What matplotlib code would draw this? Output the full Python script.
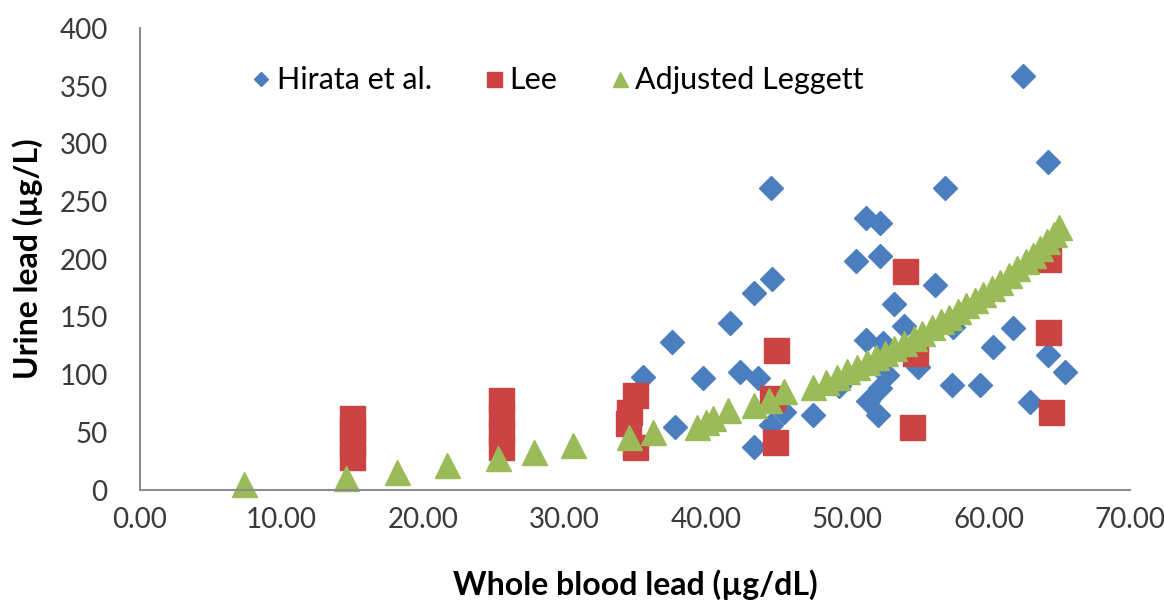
import matplotlib.pyplot as plt
from matplotlib.ticker import FormatStrFormatter

plt.rcParams['font.family'] = ['Lato', 'DejaVu Sans']

# Hirata et al.
hirata_x = [37.6, 35.6, 39.8, 37.8, 41.7, 42.4, 43.7, 43.4, 43.4, 44.6, 44.7, 44.6,
            45.5, 47.6, 49.4, 50.6, 51.3, 52.3, 52.3, 51.3, 52.5, 53.3, 54.0, 51.5,
            52.2, 52.3, 52.8, 55.0, 56.2, 56.9, 57.5, 57.4, 59.4, 60.3, 61.7, 62.4,
            64.2, 62.9, 64.2, 65.4]
hirata_y = [128, 98, 97, 55, 145, 102, 97, 37, 171, 262, 183, 56,
            68, 65, 90, 198, 236, 231, 203, 130, 127, 161, 142, 77,
            65, 88, 100, 107, 178, 262, 141, 91, 91, 124, 140, 359,
            284, 76, 117, 102]

# Lee
lee_x = [15.0, 15.0, 15.0, 15.0, 25.5, 25.5, 25.5, 25.5, 35.0, 34.5, 34.6, 35.0,
         45.0, 44.7, 44.9, 54.1, 54.8, 54.6, 64.2, 64.2, 64.4]
lee_y = [29, 40, 52, 62, 37, 50, 65, 78, 37, 58, 68, 82,
         121, 80, 42, 190, 119, 55, 200, 137, 68]

# Adjusted Leggett
leggett_x = [7.4, 14.6, 18.2, 21.7, 25.3, 27.9, 30.6, 34.6, 36.3, 39.4, 40.0, 40.5,
             41.6, 43.4, 44.5, 45.5, 47.6, 48.5, 49.3, 50.0, 50.7, 51.4, 52.0, 52.7,
             53.3, 54.0, 54.7, 55.3, 56.0, 56.6, 57.2, 57.8, 58.4, 59.0, 59.6, 60.2,
             60.8, 61.4, 62.0, 62.6, 63.1, 63.6, 64.1, 64.6, 65.0]
leggett_y = [5, 10, 16, 22, 28, 33, 39, 46, 50, 55, 59, 62,
             69, 74, 78, 86, 89, 94, 98, 103, 107, 111, 115, 119,
             123, 127, 132, 136, 141, 146, 150, 155, 160, 165, 170, 175,
             180, 186, 192, 198, 204, 210, 216, 222, 228]

fig = plt.figure(figsize=(11.64, 6.02), dpi=100)
ax = fig.add_axes([0.120, 0.186, 0.851, 0.767])

ax.plot(hirata_x, hirata_y, 'D', color='#4A7EBF', markersize=12.5, linestyle='none',
        label='Hirata et al.', clip_on=False)
ax.plot(lee_x, lee_y, 's', color='#CB4342', markersize=18, linestyle='none',
        label='Lee', clip_on=False)
ax.plot(leggett_x, leggett_y, '^', color='#9BBB59', markersize=18, linestyle='none',
        label='Adjusted Leggett', clip_on=False)

ax.set_xlim(0, 70)
ax.set_ylim(0, 400)
ax.set_xticks(range(0, 71, 10))
ax.set_yticks(range(0, 401, 50))
ax.xaxis.set_major_formatter(FormatStrFormatter('%.2f'))
ax.tick_params(length=0, labelsize=20, colors='#3A3A3A')
ax.tick_params(axis='x', pad=12)
ax.tick_params(axis='y', pad=23)

for side in ['top', 'right']:
    ax.spines[side].set_visible(False)
for side in ['left', 'bottom']:
    ax.spines[side].set_color('#8C8C8C')
    ax.spines[side].set_linewidth(1.5)

ax.set_xlabel('Whole blood lead (µg/dL)', fontsize=23, fontweight='bold', labelpad=26)
ax.set_ylabel('Urine lead (µg/L)', fontsize=23, fontweight='bold', labelpad=12)

ax.legend(loc='center', bbox_to_anchor=(0.42, 0.887), ncol=3, frameon=False,
          fontsize=22, markerscale=0.6, handletextpad=0.05, columnspacing=1.6,
          handlelength=0.9)

fig.savefig('out.png', dpi=100)
